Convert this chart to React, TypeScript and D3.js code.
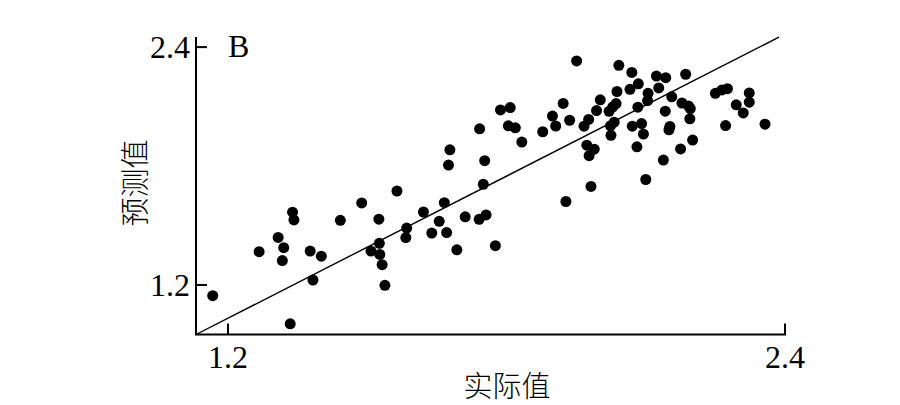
import React from "react";
import * as d3 from "d3";

const actualValues = [
  1.167, 1.334, 1.339, 1.342, 1.308, 1.320, 1.267, 1.317, 1.377, 1.401,
  1.383, 1.442, 1.488, 1.564, 1.525, 1.526, 1.508, 1.527, 1.532, 1.538,
  1.585, 1.583, 1.621, 1.666, 1.655, 1.639, 1.671, 1.693, 1.711, 1.741,
  1.756, 1.776, 1.678, 1.675, 1.742, 1.753, 1.750, 1.787, 1.808, 1.804,
  1.819, 1.833, 1.878, 1.899, 1.906, 1.922, 1.936, 1.951, 1.928, 1.967,
  1.977, 1.994, 2.002, 1.973, 1.989, 1.978, 1.982, 2.021, 2.029, 2.036,
  2.038, 2.042, 2.032, 2.024, 2.025, 2.070, 2.084, 2.066, 2.105, 2.104,
  2.128, 2.123, 2.143, 2.186, 2.156, 2.083, 2.142, 2.178, 2.192, 2.196,
  2.195, 2.071, 2.091, 2.095, 2.152, 2.150, 2.081, 2.201, 2.175, 2.138,
  2.100, 2.250, 2.264, 2.276, 2.323, 2.323, 2.295, 2.310, 2.272, 2.357,
];
const predictedValues = [
  1.146, 1.004, 1.567, 1.528, 1.440, 1.388, 1.368, 1.323, 1.371, 1.345,
  1.225, 1.526, 1.614, 1.674, 1.532, 1.410, 1.371, 1.354, 1.302, 1.198,
  1.487, 1.439, 1.568, 1.615, 1.521, 1.462, 1.464, 1.377, 1.544, 1.531,
  1.553, 1.398, 1.882, 1.805, 1.988, 1.827, 1.708, 2.083, 2.095, 2.003,
  1.993, 1.921, 1.973, 2.052, 2.002, 2.116, 2.031, 2.330, 1.621, 2.001,
  2.035, 2.080, 2.134, 1.905, 1.885, 1.852, 1.697, 2.076, 2.098, 2.115,
  2.176, 2.308, 2.021, 2.003, 1.955, 2.272, 2.215, 2.187, 2.167, 2.130,
  2.194, 2.254, 2.246, 2.263, 2.149, 2.097, 2.077, 2.118, 2.103, 2.090,
  2.038, 2.001, 2.014, 1.961, 2.000, 1.983, 1.897, 1.931, 1.886, 1.830,
  1.732, 2.167, 2.184, 2.190, 2.169, 2.122, 2.109, 2.068, 2.004, 2.011,
];
const fitLineX = [1.131, 2.387];
const fitLineY = [0.95, 2.45];
const xTicks = [1.2, 2.4];
const yTicks = [1.2, 2.4];
const xTitle = "实际值";
const yTitle = "预测值";
const panelLabel = "B";

const serif = "'Liberation Serif', 'Times New Roman', serif";
const cjk = "'Noto Sans CJK SC', sans-serif";

export default function App() {
  const x = d3.scaleLinear().domain([1.131, 2.4]).range([196, 785]);
  const y = d3.scaleLinear().domain([0.95, 2.451]).range([334.5, 37]);
  const line = d3
    .line<number>()
    .x((d) => x(d))
    .y((_, i) => y(fitLineY[i]));

  return (
    <svg
      width={900}
      height={405}
      style={{ position: "absolute", left: 0, top: 0, background: "#fff" }}
    >
      <rect width={900} height={405} fill="#fff" />
      <line x1={x(1.131)} x2={x(1.131)} y1={y(2.451)} y2={y(0.95)} stroke="#000" strokeWidth={2} />
      <line x1={x(1.131) - 1} x2={x(2.4) + 1} y1={y(0.95)} y2={y(0.95)} stroke="#000" strokeWidth={2} />
      {yTicks.map((t) => (
        <g key={"y" + t}>
          <line x1={x(1.131)} x2={x(1.131) + 11} y1={y(t)} y2={y(t)} stroke="#000" strokeWidth={2} />
          <text
            x={190}
            y={y(t)}
            dy="0.35em"
            textAnchor="end"
            fontFamily={serif}
            fontSize={32}
            fill="#000"
          >
            {t.toFixed(1)}
          </text>
        </g>
      ))}
      {xTicks.map((t) => (
        <g key={"x" + t}>
          <line x1={x(t)} x2={x(t)} y1={y(0.95)} y2={y(0.95) - 11} stroke="#000" strokeWidth={2} />
          <text
            x={x(t)}
            y={368}
            textAnchor="middle"
            fontFamily={serif}
            fontSize={32}
            fill="#000"
          >
            {t.toFixed(1)}
          </text>
        </g>
      ))}
      <text x={228} y={57} fontFamily={serif} fontSize={32} fill="#000">
        {panelLabel}
      </text>
      <text
        x={507}
        y={397}
        textAnchor="middle"
        fontFamily={cjk}
        fontWeight={300}
        fontSize={29}
        fill="#000"
      >
        {xTitle}
      </text>
      <text
        transform={`translate(146,183) rotate(-90)`}
        textAnchor="middle"
        fontFamily={cjk}
        fontWeight={300}
        fontSize={29}
        fill="#000"
      >
        {yTitle}
      </text>
      <path d={line(fitLineX) || ""} fill="none" stroke="#000" strokeWidth={1.4} />
      {actualValues.map((v, i) => (
        <circle key={i} cx={x(v)} cy={y(predictedValues[i])} r={5.5} fill="#000" />
      ))}
    </svg>
  );
}
